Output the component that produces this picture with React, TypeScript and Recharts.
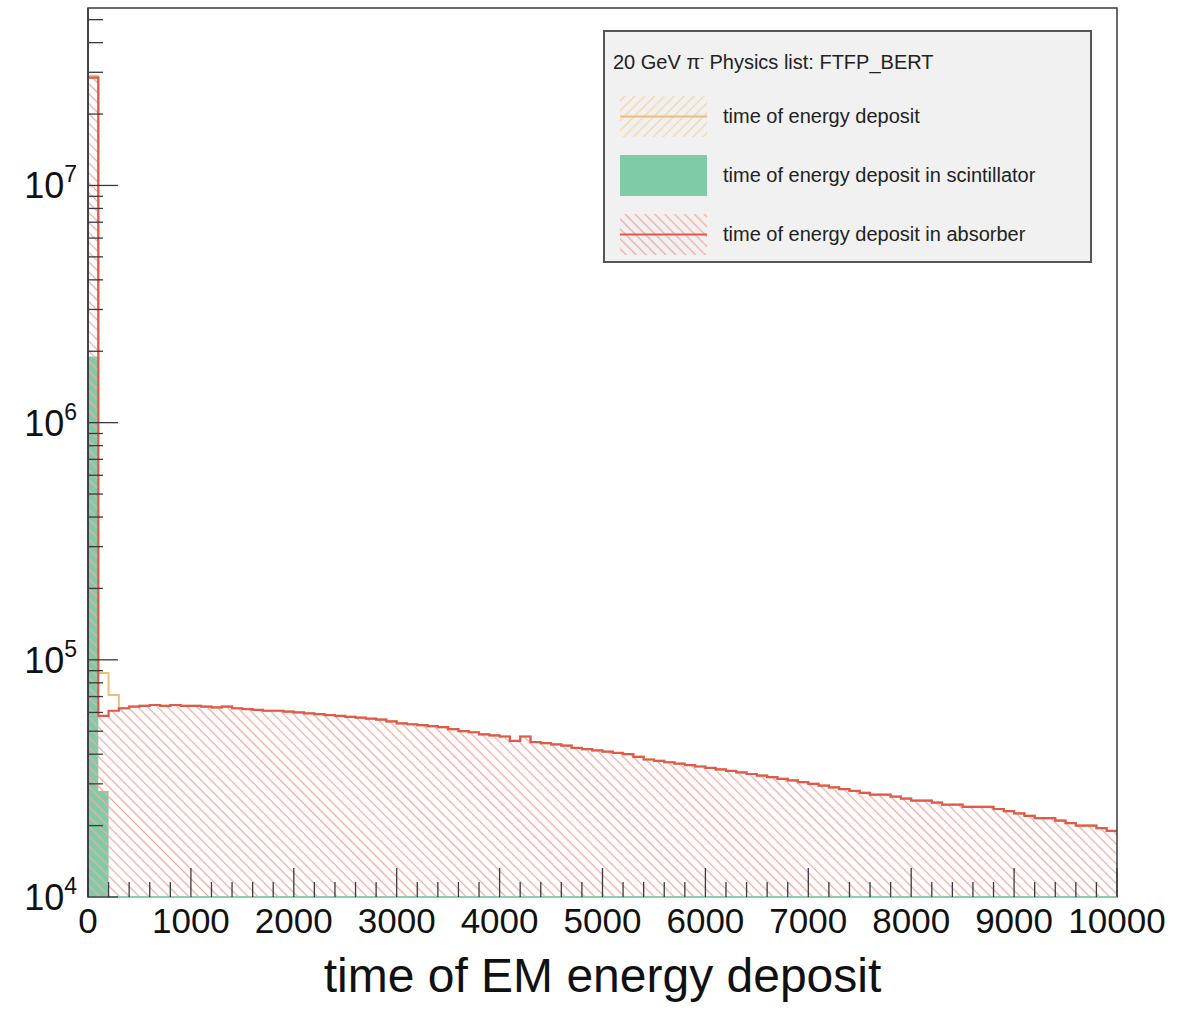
import { ComposedChart, Area, XAxis, YAxis, ReferenceArea, Legend } from 'recharts';

const FONT = '"Liberation Sans", Arial, Helvetica, sans-serif';
const BIN_WIDTH = 100;
const X_MAX = 10000;
const Y_MIN = 1e4;
const Y_MAX = 5.6e7;

// counts per 100-unit bin, absorber (red)
const absorberCounts = [
  2.85e7, 5.8e4, 6.1e4, 6.25e4, 6.35e4, 6.4e4, 6.45e4, 6.4e4, 6.45e4, 6.4e4,
  6.4e4, 6.35e4, 6.3e4, 6.35e4, 6.25e4, 6.2e4, 6.15e4, 6.1e4, 6.1e4, 6.05e4,
  6.0e4, 5.95e4, 5.9e4, 5.85e4, 5.8e4, 5.75e4, 5.7e4, 5.65e4, 5.6e4, 5.5e4,
  5.4e4, 5.35e4, 5.3e4, 5.25e4, 5.2e4, 5.1e4, 5.0e4, 4.95e4, 4.85e4, 4.8e4,
  4.75e4, 4.55e4, 4.75e4, 4.5e4, 4.45e4, 4.4e4, 4.35e4, 4.25e4, 4.2e4, 4.15e4,
  4.1e4, 4.05e4, 4.0e4, 3.9e4, 3.8e4, 3.75e4, 3.7e4, 3.65e4, 3.6e4, 3.55e4,
  3.5e4, 3.45e4, 3.4e4, 3.35e4, 3.3e4, 3.25e4, 3.2e4, 3.15e4, 3.1e4, 3.05e4,
  3.0e4, 2.95e4, 2.9e4, 2.85e4, 2.8e4, 2.75e4, 2.7e4, 2.7e4, 2.65e4, 2.6e4,
  2.55e4, 2.55e4, 2.5e4, 2.45e4, 2.45e4, 2.4e4, 2.4e4, 2.4e4, 2.35e4, 2.3e4,
  2.25e4, 2.2e4, 2.15e4, 2.15e4, 2.1e4, 2.05e4, 2.0e4, 2.0e4, 1.95e4, 1.9e4,
];

// scintillator (green), only the first bins rise above 10^4
const scintillatorCounts = [1.9e6, 2.8e4];

// total (orange): first bins differ, the rest sits under the absorber line
const totalHead = [2.9e7, 8.8e4, 7.1e4];

const xTicks = [
  0, 200, 400, 600, 800, 1000, 1200, 1400, 1600, 1800, 2000, 2200, 2400, 2600, 2800,
  3000, 3200, 3400, 3600, 3800, 4000, 4200, 4400, 4600, 4800, 5000, 5200, 5400, 5600,
  5800, 6000, 6200, 6400, 6600, 6800, 7000, 7200, 7400, 7600, 7800, 8000, 8200, 8400,
  8600, 8800, 9000, 9200, 9400, 9600, 9800, 10000,
];

const yTicks = [
  1e4, 2e4, 3e4, 4e4, 5e4, 6e4, 7e4, 8e4, 9e4,
  1e5, 2e5, 3e5, 4e5, 5e5, 6e5, 7e5, 8e5, 9e5,
  1e6, 2e6, 3e6, 4e6, 5e6, 6e6, 7e6, 8e6, 9e6,
  1e7, 2e7, 3e7, 4e7, 5e7,
];

const legendNames = [
  'time of energy deposit',
  'time of energy deposit in scintillator',
  'time of energy deposit in absorber',
];
const legendKinds = ['orange', 'green', 'red'];

const toSteps = (counts: number[]) => [
  ...counts.map((c, i) => ({ x: i * BIN_WIDTH, y: c })),
  { x: counts.length * BIN_WIDTH, y: counts[counts.length - 1] },
];

const totalCounts = absorberCounts.map((c, i) => (i < totalHead.length ? totalHead[i] : c));

const absorberData = toSteps(absorberCounts);
const totalData = toSteps(totalCounts);
const scintData = toSteps(scintillatorCounts);

const RED = '#df5a4a';
const RED_HATCH = '#efaaa3';
const ORANGE = '#e8c07e';
const ORANGE_HATCH = '#f2d6a8';
const GREEN = '#7fcaa7';
const AXIS = '#3a3a3a';

const XTick = (props: any) => {
  const { x, y, payload } = props;
  const major = payload.value % 1000 === 0;
  return (
    <g>
      <line x1={x} x2={x} y1={y} y2={y - (major ? 29 : 15)} stroke={AXIS} strokeWidth={1.3} />
      {major && (
        <text x={x} y={y + 36} textAnchor="middle" fontSize={35} fill="#111" fontFamily={FONT}>
          {payload.value}
        </text>
      )}
    </g>
  );
};

const YTick = (props: any) => {
  const { x, y, payload } = props;
  const exp = Math.log10(payload.value);
  const major = Math.abs(exp - Math.round(exp)) < 1e-6;
  return (
    <g>
      <line x1={x} x2={x + (major ? 30 : 15)} y1={y} y2={y} stroke={AXIS} strokeWidth={1.3} />
      {major && (
        <text x={x - 11} y={y + 13} textAnchor="end" fontSize={36} fill="#111" fontFamily={FONT}>
          <tspan>10</tspan>
          <tspan dy={-16} fontSize={23}>{Math.round(exp)}</tspan>
        </text>
      )}
    </g>
  );
};

const Symbol = ({ kind }: { kind: string }) => (
  <svg width={87} height={41} style={{ display: 'block' }}>
    <defs>
      <pattern id="lgOrange" patternUnits="userSpaceOnUse" width="7" height="7" patternTransform="rotate(45)">
        <line x1="3.5" y1="0" x2="3.5" y2="7" stroke={ORANGE_HATCH} strokeWidth="1.3" />
      </pattern>
      <pattern id="lgRed" patternUnits="userSpaceOnUse" width="7" height="7" patternTransform="rotate(-45)">
        <line x1="3.5" y1="0" x2="3.5" y2="7" stroke={RED_HATCH} strokeWidth="1.3" />
      </pattern>
    </defs>
    {kind === 'green' ? (
      <rect x={0} y={0} width={87} height={41} fill={GREEN} />
    ) : (
      <>
        <rect x={0} y={0} width={87} height={41} fill={kind === 'red' ? 'url(#lgRed)' : 'url(#lgOrange)'} />
        <line x1={0} x2={87} y1={20.5} y2={20.5} stroke={kind === 'red' ? RED : ORANGE} strokeWidth={2} />
      </>
    )}
  </svg>
);

const LegendBox = () => (
  <div
    style={{
      width: 489,
      height: 233,
      boxSizing: 'border-box',
      border: '2px solid #555',
      background: '#f1f1f1',
      position: 'relative',
      fontFamily: FONT,
      color: '#222',
    }}
  >
    <div style={{ position: 'absolute', left: 8, top: 15, fontSize: 20, lineHeight: '20px', whiteSpace: 'nowrap' }}>
      20 GeV π<span style={{ fontSize: 11, verticalAlign: 'super' }}>-</span> Physics list: FTFP_BERT
    </div>
    {legendNames.map((name, i) => (
      <div
        key={name}
        style={{ position: 'absolute', left: 15, top: 64 + i * 59, display: 'flex', alignItems: 'center' }}
      >
        <Symbol kind={legendKinds[i]} />
        <span style={{ marginLeft: 16, fontSize: 20, whiteSpace: 'nowrap' }}>{name}</span>
      </div>
    ))}
  </div>
);

export default function App() {
  return (
    <div style={{ position: 'absolute', left: 0, top: 0, fontFamily: FONT }}>
      <ComposedChart
        width={1192}
        height={1010}
        margin={{ top: 8, right: 75, bottom: 0, left: 0 }}
        style={{ fontFamily: FONT }}
      >
        <defs>
          <pattern id="hatchRed" patternUnits="userSpaceOnUse" width="7" height="7" patternTransform="rotate(-45)">
            <line x1="3.5" y1="0" x2="3.5" y2="7" stroke={RED_HATCH} strokeWidth="1.3" />
          </pattern>
        </defs>
        <XAxis
          dataKey="x"
          type="number"
          domain={[0, X_MAX]}
          ticks={xTicks}
          interval={0}
          allowDataOverflow
          height={113}
          tickLine={false}
          tickSize={0}
          tickMargin={0}
          tick={(p: any) => <XTick {...p} />}
          axisLine={{ stroke: '#8ccfae', strokeWidth: 2 }}
          label={{
            value: 'time of EM energy deposit',
            position: 'insideBottom',
            offset: 18,
            fontSize: 48,
            fill: '#111',
            fontFamily: FONT,
          }}
        />
        <YAxis
          type="number"
          scale="log"
          domain={[Y_MIN, Y_MAX]}
          ticks={yTicks}
          interval={0}
          allowDataOverflow
          width={88}
          tickLine={false}
          tickSize={0}
          tickMargin={0}
          tick={(p: any) => <YTick {...p} />}
          axisLine={{ stroke: AXIS, strokeWidth: 1.5 }}
        />
        <Area
          data={totalData}
          name={legendNames[0]}
          dataKey="y"
          type="stepAfter"
          baseValue={Y_MIN}
          stroke={ORANGE}
          strokeWidth={2}
          fill="none"
          dot={false}
          activeDot={false}
          isAnimationActive={false}
        />
        <Area
          data={scintData}
          name={legendNames[1]}
          dataKey="y"
          type="stepAfter"
          baseValue={Y_MIN}
          stroke="none"
          fill={GREEN}
          fillOpacity={1}
          dot={false}
          activeDot={false}
          isAnimationActive={false}
        />
        <Area
          data={absorberData}
          name={legendNames[2]}
          dataKey="y"
          type="stepAfter"
          baseValue={Y_MIN}
          stroke={RED}
          strokeWidth={2.2}
          fill="url(#hatchRed)"
          fillOpacity={1}
          dot={false}
          activeDot={false}
          isAnimationActive={false}
        />
        <ReferenceArea
          x1={0}
          x2={X_MAX}
          y1={Y_MIN}
          y2={Y_MAX}
          fill="none"
          stroke={AXIS}
          strokeWidth={1.5}
          ifOverflow="visible"
        />
        <Legend
          layout="vertical"
          align="center"
          verticalAlign="middle"
          wrapperStyle={{ left: 603, top: 30, width: 489, height: 233 }}
          content={() => <LegendBox />}
        />
      </ComposedChart>
    </div>
  );
}
